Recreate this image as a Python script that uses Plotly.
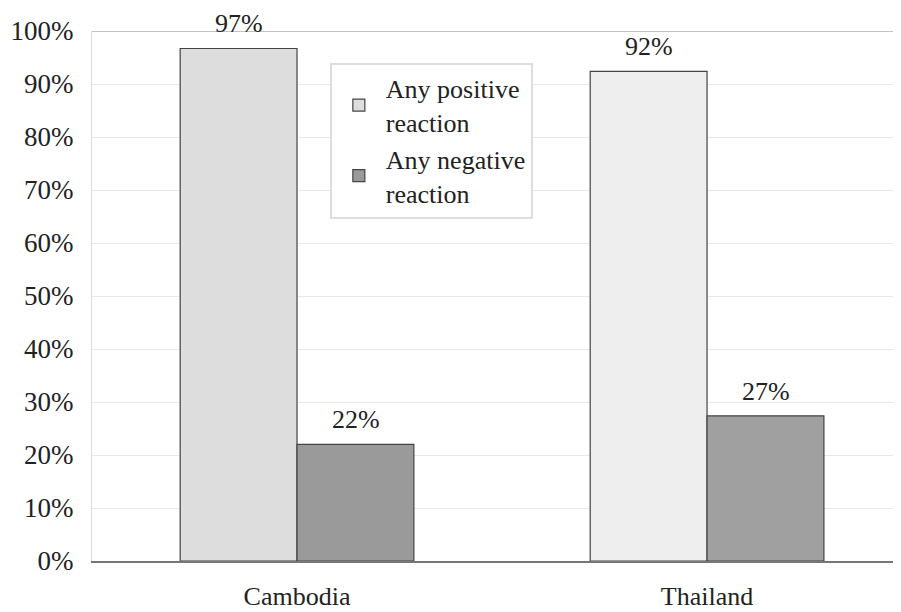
import plotly.graph_objects as go

countries = ["Cambodia", "Thailand"]
positive = [96.7, 92.4]
negative = [22.0, 27.4]
series_names = ["Any positive<br>reaction", "Any negative<br>reaction"]
y_ticks = [0, 10, 20, 30, 40, 50, 60, 70, 80, 90, 100]
y_tick_labels = [f"{v}%" for v in y_ticks]

font_family = "Liberation Serif, Times New Roman, serif"
fs = 27
text_color = "#222222"

fig = go.Figure()
fig.add_trace(go.Bar(
    x=countries, y=positive, name=series_names[0],
    marker=dict(color=["#dddddd", "#eeeeee"], line=dict(color="#444444", width=1.2)),
))
fig.add_trace(go.Bar(
    x=countries, y=negative, name=series_names[1],
    marker=dict(color=["#9a9a9a", "#a0a0a0"], line=dict(color="#444444", width=1.2)),
))

# value labels above each bar (offset to the bar's position within the group)
for vals, shift in ((positive, -58.5), (negative, 58.5)):
    for c, v in zip(countries, vals):
        fig.add_annotation(x=c, y=v, xref="x", yref="y", text=f"{round(v)}%",
                           showarrow=False, xshift=shift, yshift=8, yanchor="bottom",
                           font=dict(family=font_family, size=fs - 1, color=text_color))

fig.update_layout(
    width=893, height=604,
    margin=dict(l=84, r=0, t=23, b=51, autoexpand=False),
    paper_bgcolor="white", plot_bgcolor="white",
    barmode="group", bargap=0.43, bargroupgap=0,
    font=dict(family=font_family, size=fs, color=text_color),
    showlegend=True,
    legend=dict(
        x=0.294, y=0.94, xanchor="left", yanchor="top",
        bgcolor="white", bordercolor="#dddddd", borderwidth=2,
        font=dict(family=font_family, size=26, color=text_color),
        tracegroupgap=6, itemwidth=44,
    ),
)
fig.update_xaxes(
    range=[-0.5, 1.473], showgrid=False, automargin=False,
    showline=True, linecolor="#777777", linewidth=1.5,
    ticks="", ticklabelstandoff=11,
    tickfont=dict(family=font_family, size=fs - 1, color=text_color),
)
fig.update_yaxes(
    range=[0, 100], tickvals=y_ticks, ticktext=y_tick_labels, automargin=False,
    showgrid=True, gridcolor="#e8e8e8", gridwidth=1,
    showline=True, linecolor="#dddddd", linewidth=1, mirror=False,
    zeroline=False, ticks="", ticklabelstandoff=12,
    tickfont=dict(family=font_family, size=fs, color=text_color),
)
fig.add_shape(type="line", xref="paper", yref="y", x0=0, x1=1, y0=100, y1=100,
              line=dict(color="#888888", width=1.2), layer="below")

fig.write_html("out.html")
